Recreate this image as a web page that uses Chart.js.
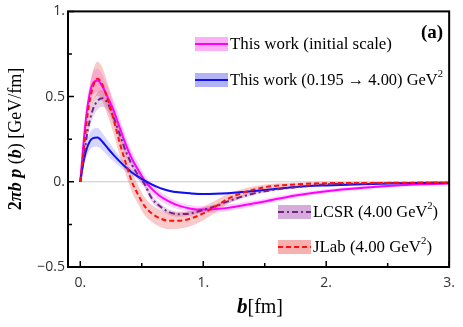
<!DOCTYPE html>
<html>
<head>
<meta charset="utf-8">
<script src="https://cdn.jsdelivr.net/npm/chart.js@4"></script>
<style>
  html, body { margin: 0; padding: 0; background: #fff; }
  #wrap { width: 463px; height: 327px; }
</style>
</head>
<body>
<div id="wrap"><canvas id="pressureChart" width="463" height="327"></canvas></div>
<script>
// impact parameter b [fm]
const bVals = [0, 0.03, 0.06, 0.1, 0.14, 0.18, 0.22, 0.27, 0.32, 0.37, 0.42, 0.47, 0.52, 0.58, 0.65, 0.72, 0.8, 0.9, 1.0, 1.1, 1.2, 1.35, 1.5, 1.75, 2.0, 2.3, 2.6, 3.0];

// This work (initial scale)
const initVals = [0, 0.26, 0.45, 0.575, 0.595, 0.56, 0.5, 0.42, 0.32, 0.22, 0.135, 0.07, 0.01, -0.04, -0.085, -0.115, -0.14, -0.158, -0.163, -0.16, -0.153, -0.135, -0.115, -0.08, -0.055, -0.035, -0.02, -0.01];
const initErr = [0, 0.03, 0.05, 0.065, 0.07, 0.07, 0.065, 0.06, 0.055, 0.05, 0.045, 0.04, 0.035, 0.03, 0.028, 0.025, 0.022, 0.02, 0.02, 0.02, 0.02, 0.018, 0.016, 0.014, 0.012, 0.01, 0.008, 0.006];

// This work (0.195 -> 4.00 GeV^2)
const evolvedVals = [0, 0.13, 0.21, 0.255, 0.26, 0.235, 0.2, 0.158, 0.12, 0.085, 0.055, 0.03, 0.008, -0.015, -0.037, -0.052, -0.062, -0.068, -0.071, -0.07, -0.067, -0.058, -0.048, -0.03, -0.021, -0.014, -0.009, -0.005];
const evolvedErr = [0, 0.03, 0.045, 0.052, 0.055, 0.05, 0.045, 0.038, 0.03, 0.024, 0.018, 0.014, 0.01, 0.008, 0.007, 0.006, 0.006, 0.006, 0.006, 0.006, 0.005, 0.005, 0.004, 0.004, 0.003, 0.003, 0.002, 0.002];

// LCSR (4.00 GeV^2)
const lcsrVals = [0, 0.15, 0.3, 0.42, 0.475, 0.49, 0.465, 0.38, 0.28, 0.18, 0.1, 0.04, -0.01, -0.095, -0.145, -0.177, -0.19, -0.185, -0.165, -0.143, -0.115, -0.08, -0.055, -0.032, -0.015, -0.01, -0.007, -0.005];
const lcsrErr = [0, 0.02, 0.035, 0.045, 0.05, 0.05, 0.048, 0.044, 0.04, 0.035, 0.03, 0.026, 0.022, 0.02, 0.018, 0.016, 0.015, 0.014, 0.013, 0.012, 0.011, 0.01, 0.008, 0.006, 0.005, 0.004, 0.003, 0.002];

// JLab (4.00 GeV^2)
const jlabVals = [0, 0.2, 0.4, 0.55, 0.605, 0.57, 0.49, 0.37, 0.23, 0.11, 0.0, -0.075, -0.14, -0.185, -0.215, -0.228, -0.228, -0.215, -0.185, -0.145, -0.1, -0.058, -0.032, -0.015, -0.008, -0.007, -0.006, -0.005];
const jlabErr = [0, 0.04, 0.07, 0.09, 0.1, 0.1, 0.095, 0.085, 0.075, 0.065, 0.06, 0.055, 0.052, 0.05, 0.05, 0.05, 0.048, 0.045, 0.04, 0.035, 0.03, 0.022, 0.016, 0.01, 0.006, 0.004, 0.003, 0.002];

// ticks
const xTicks = [0, 1, 2, 3];
const xTickLabels = ['0.', '1.', '2.', '3.'];
const xMinorTicks = [0.5, 1.5, 2.5];
const yTicks = [-0.5, 0, 0.5, 1];
const yTickLabels = ['\u22120.5', '0.', '0.5', '1.'];
const yMinorTicks = [-0.25, 0.25, 0.75];

const SERIF = '"Liberation Serif", "DejaVu Serif", serif';

function points(vals, err, sign) {
    return bVals.map(function(b, i) {
        return { x: b, y: vals[i] + sign * (err ? err[i] : 0) };
    });
}

function lineSet(vals, color, dash, width) {
    return {
        data: points(vals, null, 0),
        borderColor: color,
        borderWidth: width,
        borderDash: dash,
        pointRadius: 0,
        fill: false,
        cubicInterpolationMode: 'monotone'
    };
}

function bandSets(vals, err, color) {
    return [
        {
            data: points(vals, err, 1),
            borderWidth: 0,
            pointRadius: 0,
            backgroundColor: color,
            fill: '+1',
            cubicInterpolationMode: 'monotone'
        },
        {
            data: points(vals, err, -1),
            borderWidth: 0,
            pointRadius: 0,
            fill: false,
            cubicInterpolationMode: 'monotone'
        }
    ];
}

// draw a run of text pieces with their own fonts
function drawPieces(ctx, pieces, x, y) {
    pieces.forEach(function(p) {
        ctx.font = p.font;
        ctx.fillText(p.text, x, y + (p.dy || 0));
        x += ctx.measureText(p.text).width;
    });
    return x;
}

function piecesWidth(ctx, pieces) {
    let w = 0;
    pieces.forEach(function(p) { ctx.font = p.font; w += ctx.measureText(p.text).width; });
    return w;
}

// fit = width the label text takes in the original figure
const legendEntries = [
    { x: 195, y: 44, swatch: 'rgb(252,175,246)', color: '#ff00ff', dash: [], text: 'This work (initial scale)', sup: '', fit: 162 },
    { x: 195, y: 80, swatch: 'rgb(178,178,246)', color: '#1010f0', dash: [], text: 'This work (0.195 \u2192 4.00) GeV', sup: '2', fit: 213 },
    { x: 278, y: 212, swatch: 'rgb(212,172,218)', color: '#7a1f8a', dash: [6, 3, 2, 3], text: 'LCSR (4.00 GeV', sup: '2', tail: ')', fit: 125 },
    { x: 278, y: 247, swatch: 'rgb(246,176,176)', color: '#ff1010', dash: [5, 3], text: 'JLab (4.00 GeV', sup: '2', tail: ')', fit: 119 }
];

const decorPlugin = {
    id: 'decor',
    beforeDatasetsDraw: function(chart) {
        const ctx = chart.ctx;
        const xs = chart.scales.x, ys = chart.scales.y;
        // zero line
        ctx.save();
        ctx.strokeStyle = '#c8c8c8';
        ctx.lineWidth = 1;
        ctx.beginPath();
        ctx.moveTo(xs.getPixelForValue(0), ys.getPixelForValue(0));
        ctx.lineTo(xs.getPixelForValue(3), ys.getPixelForValue(0));
        ctx.stroke();
        ctx.restore();
    },
    afterDraw: function(chart) {
        const ctx = chart.ctx;
        const area = chart.chartArea;
        const xs = chart.scales.x, ys = chart.scales.y;
        ctx.save();

        // frame
        ctx.strokeStyle = '#000';
        ctx.lineWidth = 2;
        ctx.strokeRect(area.left, area.top, area.right - area.left, area.bottom - area.top);

        // inward ticks
        ctx.lineWidth = 1.5;
        ctx.beginPath();
        xTicks.concat(xMinorTicks).forEach(function(v, i) {
            const px = xs.getPixelForValue(v);
            const len = i < xTicks.length ? 6 : 4;
            ctx.moveTo(px, area.bottom);
            ctx.lineTo(px, area.bottom - len);
        });
        yTicks.concat(yMinorTicks).forEach(function(v, i) {
            const py = ys.getPixelForValue(v);
            const len = i < yTicks.length ? 6 : 4;
            ctx.moveTo(area.left, py);
            ctx.lineTo(area.left + len, py);
        });
        ctx.stroke();

        // legend
        ctx.textBaseline = 'middle';
        legendEntries.forEach(function(e) {
            ctx.fillStyle = e.swatch;
            ctx.fillRect(e.x, e.y - 7, 33, 14);
            ctx.strokeStyle = e.color;
            ctx.lineWidth = 2;
            ctx.setLineDash(e.dash);
            ctx.beginPath();
            ctx.moveTo(e.x, e.y);
            ctx.lineTo(e.x + 33, e.y);
            ctx.stroke();
            ctx.setLineDash([]);
            ctx.fillStyle = '#000';
            const pieces = [{ text: e.text, font: '17px ' + SERIF }];
            if (e.sup) pieces.push({ text: e.sup, font: '11px ' + SERIF, dy: -7 });
            if (e.tail) pieces.push({ text: e.tail, font: '17px ' + SERIF });
            const w = piecesWidth(ctx, pieces);
            const sx = Math.min(1, e.fit / w);
            ctx.save();
            ctx.translate(e.x + 35, e.y + 1);
            ctx.scale(sx, 1);
            drawPieces(ctx, pieces, 0, 0);
            ctx.restore();
        });

        // panel label
        ctx.font = 'bold 19px ' + SERIF;
        ctx.fillText('(a)', 421, 33);

        // x title
        ctx.textBaseline = 'alphabetic';
        const xt = [
            { text: 'b', font: 'italic bold 21px ' + SERIF },
            { text: '[fm]', font: '20px ' + SERIF }
        ];
        drawPieces(ctx, xt, 260 - piecesWidth(ctx, xt) / 2, 313);

        // y title
        const yt = [
            { text: '2', font: 'bold 18px ' + SERIF },
            { text: '\u03c0b', font: 'italic bold 18px ' + SERIF },
            { text: ' ', font: 'bold 18px ' + SERIF },
            { text: 'p', font: 'italic bold 18px ' + SERIF },
            { text: ' (', font: '18px ' + SERIF },
            { text: 'b', font: 'italic bold 18px ' + SERIF },
            { text: ') [GeV/fm]', font: '18px ' + SERIF }
        ];
        const w = piecesWidth(ctx, yt);
        ctx.translate(21, 139);
        ctx.rotate(-Math.PI / 2);
        drawPieces(ctx, yt, -w / 2, 0);

        ctx.restore();
    }
};

const datasets = [
    lineSet(jlabVals, '#ff1010', [5, 3], 2),
    lineSet(lcsrVals, '#7a1f8a', [6, 3, 2, 3], 2),
    lineSet(evolvedVals, '#1010f0', [], 2),
    lineSet(initVals, '#ff00ff', [], 2)
].concat(
    bandSets(jlabVals, jlabErr, 'rgba(236,90,90,0.32)'),
    bandSets(lcsrVals, lcsrErr, 'rgba(150,90,170,0.28)'),
    bandSets(evolvedVals, evolvedErr, 'rgba(90,90,255,0.25)'),
    bandSets(initVals, initErr, 'rgba(255,90,255,0.28)')
);

new Chart(document.getElementById('pressureChart'), {
    type: 'line',
    data: { datasets: datasets },
    options: {
        responsive: false,
        animation: false,
        layout: { padding: { top: 10, right: 6, left: 0, bottom: 0 } },
        plugins: {
            legend: { display: false },
            tooltip: { enabled: false }
        },
        scales: {
            x: {
                type: 'linear',
                min: -0.1,
                max: 3.0,
                grid: { display: false, drawTicks: false },
                border: { display: false },
                afterBuildTicks: function(scale) {
                    scale.ticks = xTicks.map(function(v) { return { value: v }; });
                },
                afterFit: function(scale) { scale.height = 60; },
                ticks: {
                    padding: 8,
                    maxRotation: 0,
                    color: '#333',
                    font: { family: '"Open Sans", sans-serif', size: 14 },
                    callback: function(v) { return xTickLabels[xTicks.indexOf(v)]; }
                }
            },
            y: {
                type: 'linear',
                min: -0.5,
                max: 1.0,
                grid: { display: false, drawTicks: false },
                border: { display: false },
                afterBuildTicks: function(scale) {
                    scale.ticks = yTicks.map(function(v) { return { value: v }; });
                },
                afterFit: function(scale) { scale.width = 68; },
                ticks: {
                    padding: 3,
                    color: '#333',
                    font: { family: '"Open Sans", sans-serif', size: 14 },
                    callback: function(v) { return yTickLabels[yTicks.indexOf(v)]; }
                }
            }
        }
    },
    plugins: [decorPlugin]
});
</script>
</body>
</html>
